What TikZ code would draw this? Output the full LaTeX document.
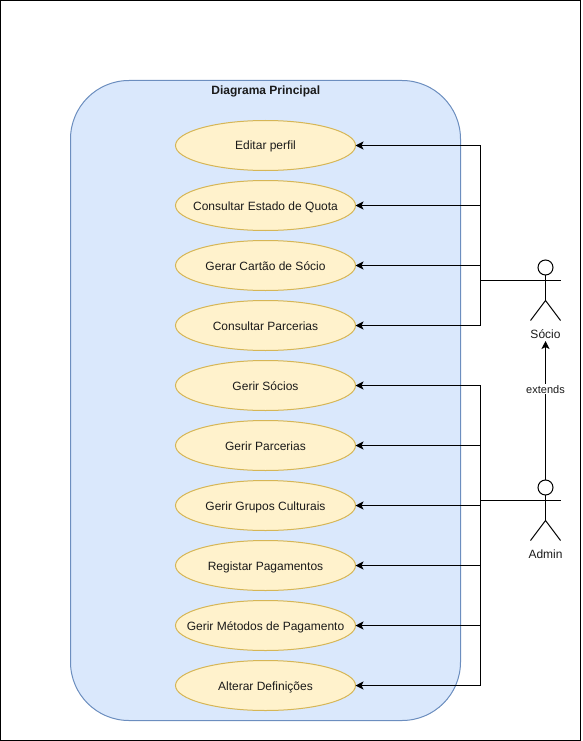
\documentclass[tikz,border=0pt]{standalone}
\usepackage{fontspec}
\setmainfont{Liberation Sans}
\usetikzlibrary{arrows.meta,shapes.geometric}
\definecolor{contfill}{HTML}{DAE8FC}
\definecolor{contline}{HTML}{6C8EBF}
\definecolor{ucfill}{HTML}{FFF2CC}
\definecolor{ucline}{HTML}{D6B656}
\definecolor{txt}{HTML}{1A1A1A}
\newcommand{\uctext}[1]{\makebox[0pt]{\raisebox{-4.5pt}[0pt][0pt]{#1}}}
\tikzset{
  every node/.style={font=\fontsize{12}{14}\selectfont,text=txt},
  usecase/.style={ellipse,draw=ucline,fill=ucfill,line width=1pt,minimum width=180pt,minimum height=50pt,inner sep=0pt,outer sep=0pt},
  wire/.style={draw=black,line width=1pt},
  assoc/.style={wire,-{Stealth[length=8pt,width=8pt,inset=2pt]}},
  actorhead/.style={circle,draw=black,fill=white,line width=1pt,minimum size=15pt,inner sep=0pt,outer sep=0pt},
}
\begin{document}
\begin{tikzpicture}[x=1pt,y=-1pt]
\useasboundingbox (0,0) rectangle (582,741);
\draw[black,line width=1pt] (0.5,0.5) rectangle (580.5,740.5);
\draw[draw=contline,fill=contfill,line width=1pt,rounded corners=58.5pt] (70.5,80.5) rectangle (460.5,720.5);
\node[font=\fontsize{12}{14}\selectfont\bfseries] (title) at (265.8,91.5) {Diagrama Principal};
\node[usecase] (e1) at (265.5,145.5) {\uctext{Editar perfil}};
\node[usecase] (e2) at (265.5,205.5) {\uctext{Consultar Estado de Quota}};
\node[usecase] (e3) at (265.5,265.5) {\uctext{Gerar Cartão de Sócio}};
\node[usecase] (e4) at (265.5,325.5) {\uctext{Consultar Parcerias}};
\node[usecase] (e5) at (265.5,385.5) {\uctext{Gerir Sócios}};
\node[usecase] (e6) at (265.5,445.5) {\uctext{Gerir Parcerias}};
\node[usecase] (e7) at (265.5,505.5) {\uctext{Gerir Grupos Culturais}};
\node[usecase] (e8) at (265.5,565.5) {\uctext{Registar Pagamentos}};
\node[usecase] (e9) at (265.5,625.5) {\uctext{Gerir Métodos de Pagamento}};
\node[usecase] (e10) at (265.5,685.5) {\uctext{Alterar Definições}};
% actors
\coordinate (socio) at (530.5,280.5);
\coordinate (socioR) at (560.5,280.5);
\coordinate (socioHip) at (545.5,300.5);
\coordinate (socioL) at (530.5,320.5);
\coordinate (socioRL) at (560.5,320.5);
\coordinate (busS) at (480.5,280.5);
\node[actorhead] (socioHead) at (545.5,267.5) {};
\node (socioLabel) at (545.5,334.5) {Sócio};
\coordinate (admin) at (530.5,500.5);
\coordinate (adminR) at (560.5,500.5);
\coordinate (adminHip) at (545.5,520.5);
\coordinate (adminL) at (530.5,540.5);
\coordinate (adminRL) at (560.5,540.5);
\coordinate (busA) at (480.5,500.5);
\node[actorhead] (adminHead) at (545.5,487.5) {};
\node (adminLabel) at (545.5,554.5) {Admin};
\foreach \a in {socio,admin}{
  \draw[wire] (\a Head.south) -- (\a Hip);
  \draw[wire] (\a) -- (\a R);
  \draw[wire] (\a L) -- (\a Hip) -- (\a RL);
}
% associations
\foreach \e in {e1,e2,e3,e4}{\draw[assoc] (socio) -- (busS) |- (\e.east);}
\foreach \e in {e5,e6,e7,e8,e9,e10}{\draw[assoc] (admin) -- (busA) |- (\e.east);}
\coordinate (extTip) at (545.5,341);
\draw[assoc] (adminHead.north) -- (extTip) node[pos=0.652,fill=white,inner sep=1pt,font=\fontsize{11}{13}\selectfont] (extLabel) {extends};
\end{tikzpicture}
\end{document}
